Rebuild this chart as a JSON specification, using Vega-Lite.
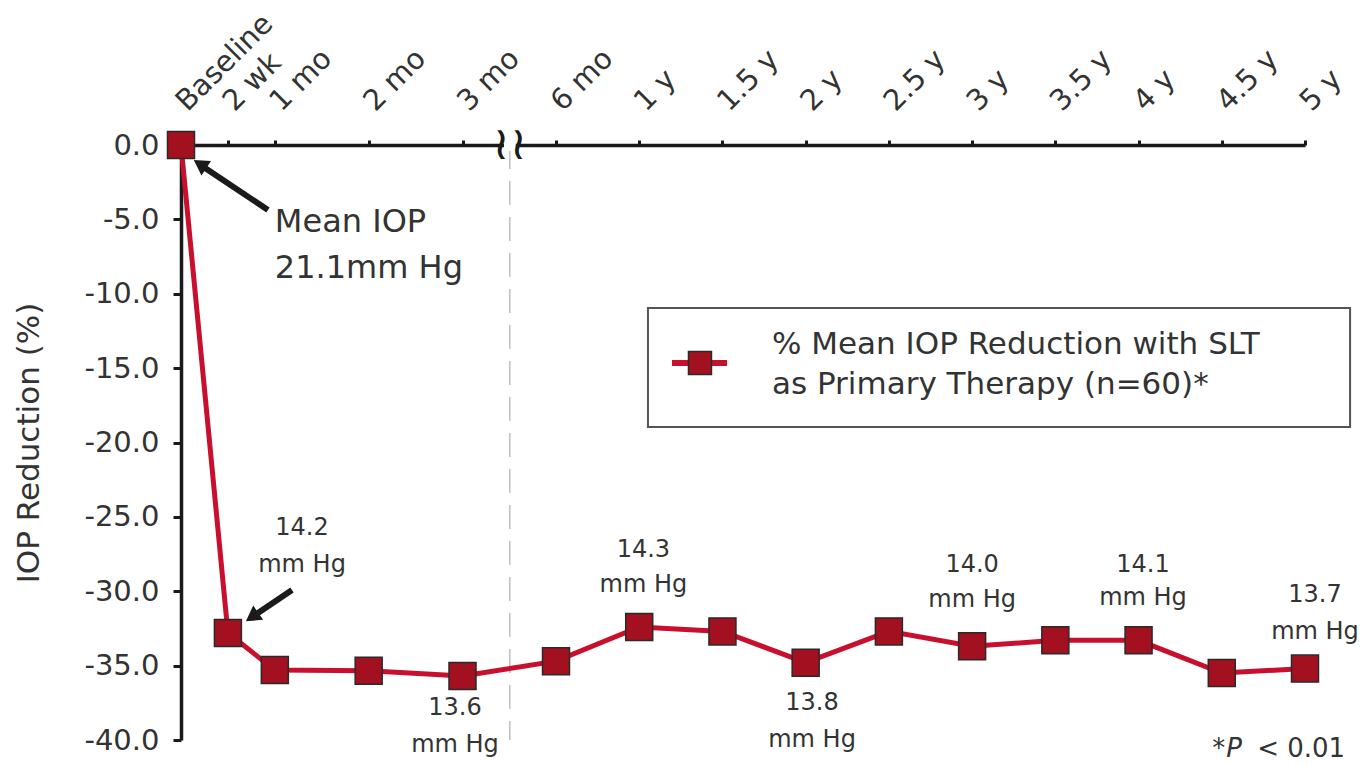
{
  "$schema": "https://vega.github.io/schema/vega-lite/v6.json",
  "width": 1124,
  "height": 595,
  "autosize": "none",
  "padding": {"left": 181, "top": 145, "right": 60, "bottom": 25},
  "background": "white",
  "datasets": {
    "iop": [
      {"label": "Baseline", "m": 0, "v": 0},
      {"label": "2 wk", "m": 0.5, "v": -32.8},
      {"label": "1 mo", "m": 1, "v": -35.3},
      {"label": "2 mo", "m": 2, "v": -35.35},
      {"label": "3 mo", "m": 3, "v": -35.7},
      {"label": "6 mo", "m": 6, "v": -34.7},
      {"label": "1 y", "m": 12, "v": -32.4},
      {"label": "1.5 y", "m": 18, "v": -32.7},
      {"label": "2 y", "m": 24, "v": -34.8},
      {"label": "2.5 y", "m": 30, "v": -32.7},
      {"label": "3 y", "m": 36, "v": -33.7},
      {"label": "3.5 y", "m": 42, "v": -33.3},
      {"label": "4 y", "m": 48, "v": -33.3},
      {"label": "4.5 y", "m": 54, "v": -35.5},
      {"label": "5 y", "m": 60, "v": -35.2}
    ],
    "mmhg": [
      {"m": 1.29, "v": -25.75, "t": "14.2"},
      {"m": 1.29, "v": -28.24, "t": "mm Hg"},
      {"m": 2.92, "v": -37.85, "t": "13.6"},
      {"m": 2.92, "v": -40.34, "t": "mm Hg"},
      {"m": 12.3, "v": -27.23, "t": "14.3"},
      {"m": 12.3, "v": -29.58, "t": "mm Hg"},
      {"m": 24.46, "v": -37.51, "t": "13.8"},
      {"m": 24.46, "v": -40.0, "t": "mm Hg"},
      {"m": 36.0, "v": -28.24, "t": "14.0"},
      {"m": 36.0, "v": -30.59, "t": "mm Hg"},
      {"m": 48.32, "v": -28.24, "t": "14.1"},
      {"m": 48.32, "v": -30.45, "t": "mm Hg"},
      {"m": 60.72, "v": -30.25, "t": "13.7"},
      {"m": 60.72, "v": -32.74, "t": "mm Hg"}
    ],
    "baselineNote": [
      {"m": 1.0, "v": -5.18, "t": "Mean IOP"},
      {"m": 1.0, "v": -8.27, "t": "21.1mm Hg"}
    ],
    "arrowShafts": [
      {"m": 0.927, "v": -4.37, "m2": 0.256, "v2": -1.55},
      {"m": 1.183, "v": -29.92, "m2": 0.82, "v2": -31.46}
    ],
    "arrowHeads": [
      {"m": 0.2025, "v": -1.28, "a": 303.5},
      {"m": 0.757, "v": -31.73, "a": 235}
    ],
    "axisBreak": [{"m": 4.52, "v": 0, "v2": -40}],
    "legendBox": [{"m": 12.63, "m2": 63.25, "v": -10.96, "v2": -18.96}],
    "legendLine": [{"m": 14.36, "m2": 18.33, "v": -14.66}],
    "legendMarker": [{"m": 16.38, "v": -14.66}],
    "legendText": [
      {"m": 21.57, "v": -13.45, "t": "% Mean IOP Reduction with SLT"},
      {"m": 21.57, "v": -16.13, "t": "as Primary Therapy (n=60)*"}
    ],
    "pStar": [{"m": 54.25, "v": -40.6, "t": "*"}],
    "pLetter": [{"m": 55.46, "v": -40.6, "t": "P"}],
    "pValue": [{"m": 62.89, "v": -40.6, "t": "< 0.01"}]
  },
  "encoding": {
    "x": {
      "field": "m",
      "type": "quantitative",
      "scale": {"domain": [0, 3, 6, 60], "range": [0, 281.5, 375, 1124], "nice": false, "zero": false},
      "axis": {
        "orient": "top",
        "title": null,
        "grid": false,
        "values": [0, 0.5, 1, 2, 3, 6, 12, 18, 24, 30, 36, 42, 48, 54, 60],
        "labelExpr": "datum.value == 0 ? 'Baseline' : datum.value == 0.5 ? '2 wk' : datum.value < 12 ? datum.value + ' mo' : (datum.value / 12) + ' y'",
        "labelAngle": -45,
        "labelAlign": "left",
        "labelBaseline": "alphabetic",
        "labelPadding": 28,
        "labelOffset": 6,
        "labelFontSize": 29,
        "labelFont": "DejaVu Sans",
        "labelColor": "#333333",
        "labelOverlap": false,
        "labelFlush": false,
        "labelBound": false,
        "tickSize": 5,
        "tickWidth": 3,
        "tickColor": "#1a1a1a",
        "domainWidth": 3.5,
        "domainColor": "#1a1a1a"
      }
    },
    "y": {
      "field": "v",
      "type": "quantitative",
      "scale": {"domain": [-40, 0], "nice": false, "zero": false},
      "axis": {
        "title": "IOP Reduction (%)",
        "titleFont": "DejaVu Sans",
        "titleFontSize": 31,
        "titleFontWeight": "normal",
        "titleColor": "#333333",
        "titlePadding": 38,
        "grid": false,
        "values": [0, -5, -10, -15, -20, -25, -30, -35, -40],
        "labelExpr": "replace(format(datum.value, '.1f'), '−', '-')",
        "labelFontSize": 29,
        "labelFont": "DejaVu Sans",
        "labelColor": "#333333",
        "labelPadding": 14,
        "tickSize": 8,
        "tickWidth": 3,
        "tickColor": "#1a1a1a",
        "domainWidth": 3.5,
        "domainColor": "#1a1a1a"
      }
    }
  },
  "layer": [
    {
      "data": {"name": "axisBreak"},
      "mark": {"type": "rule", "color": "#a0a0a0", "strokeWidth": 1, "strokeDash": [24, 12]},
      "encoding": {"y2": {"field": "v2"}}
    },
    {
      "data": {"name": "axisBreak"},
      "mark": {"type": "point", "shape": "square", "filled": true, "color": "white", "size": 140, "opacity": 1},
      "encoding": {}
    },
    {
      "data": {"name": "axisBreak"},
      "mark": {"type": "text", "text": "≀≀", "font": "DejaVu Sans", "fontSize": 46, "color": "#1a1a1a", "baseline": "middle", "align": "center"},
      "encoding": {}
    },
    {
      "data": {"name": "iop"},
      "mark": {"type": "line", "color": "#C8102E", "strokeWidth": 5},
      "encoding": {}
    },
    {
      "data": {"name": "iop"},
      "mark": {"type": "point", "shape": "square", "filled": true, "size": 729, "fill": "#A3101F", "stroke": "#2a2a2a", "strokeWidth": 1.5, "opacity": 1},
      "encoding": {}
    },
    {
      "data": {"name": "arrowShafts"},
      "mark": {"type": "rule", "color": "#1a1a1a", "strokeWidth": 6},
      "encoding": {"x2": {"field": "m2"}, "y2": {"field": "v2"}}
    },
    {
      "data": {"name": "arrowHeads"},
      "mark": {"type": "point", "shape": "triangle-up", "filled": true, "color": "#1a1a1a", "size": 300, "opacity": 1},
      "encoding": {"angle": {"field": "a", "type": "quantitative", "scale": null}}
    },
    {
      "data": {"name": "mmhg"},
      "mark": {"type": "text", "font": "DejaVu Sans", "fontSize": 24, "color": "#333333", "align": "center", "baseline": "middle"},
      "encoding": {"text": {"field": "t"}}
    },
    {
      "data": {"name": "baselineNote"},
      "mark": {"type": "text", "font": "DejaVu Sans", "fontSize": 32, "color": "#333333", "align": "left", "baseline": "middle"},
      "encoding": {"text": {"field": "t"}}
    },
    {
      "data": {"name": "legendBox"},
      "mark": {"type": "rect", "fill": "white", "stroke": "#555555", "strokeWidth": 2},
      "encoding": {"x2": {"field": "m2"}, "y2": {"field": "v2"}}
    },
    {
      "data": {"name": "legendLine"},
      "mark": {"type": "rule", "color": "#C8102E", "strokeWidth": 6},
      "encoding": {"x2": {"field": "m2"}}
    },
    {
      "data": {"name": "legendMarker"},
      "mark": {"type": "point", "shape": "square", "filled": true, "size": 529, "fill": "#A3101F", "stroke": "#2a2a2a", "strokeWidth": 1.5, "opacity": 1},
      "encoding": {}
    },
    {
      "data": {"name": "legendText"},
      "mark": {"type": "text", "font": "DejaVu Sans", "fontSize": 31, "color": "#333333", "align": "left", "baseline": "middle"},
      "encoding": {"text": {"field": "t"}}
    },
    {
      "data": {"name": "pStar"},
      "mark": {"type": "text", "font": "DejaVu Sans", "fontSize": 26, "color": "#333333", "align": "right", "baseline": "middle"},
      "encoding": {"text": {"field": "t"}}
    },
    {
      "data": {"name": "pLetter"},
      "mark": {"type": "text", "font": "DejaVu Sans", "fontSize": 26, "fontStyle": "italic", "color": "#333333", "align": "right", "baseline": "middle"},
      "encoding": {"text": {"field": "t"}}
    },
    {
      "data": {"name": "pValue"},
      "mark": {"type": "text", "font": "DejaVu Sans", "fontSize": 26, "color": "#333333", "align": "right", "baseline": "middle"},
      "encoding": {"text": {"field": "t"}}
    }
  ],
  "config": {
    "view": {"stroke": null}
  }
}
